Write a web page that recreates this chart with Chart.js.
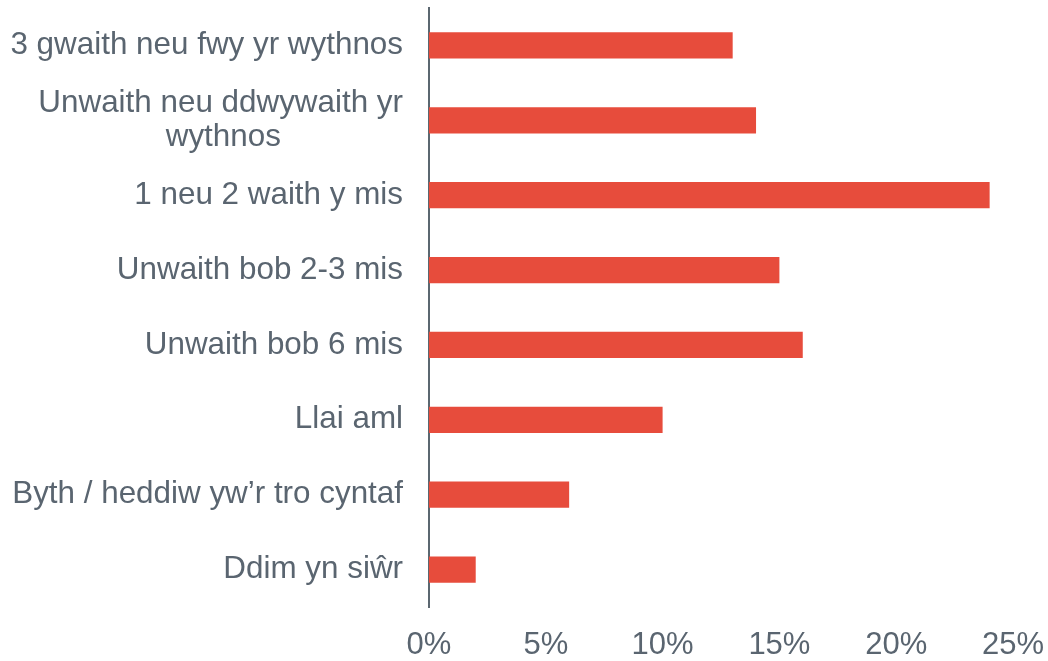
<!DOCTYPE html>
<html>
<head>
<meta charset="utf-8">
<script src="https://cdn.jsdelivr.net/npm/chart.js@4"></script>
<style>
  html, body { margin: 0; padding: 0; background: #ffffff; }
  #wrap { width: 1048px; height: 661px; position: relative; }
</style>
</head>
<body>
<div id="wrap"><canvas id="c"></canvas></div>
<script>
const categories = [
  "3 gwaith neu fwy yr wythnos",
  ["Unwaith neu ddwywaith yr", "wythnos" + " ".repeat(14)],
  "1 neu 2 waith y mis",
  "Unwaith bob 2-3 mis",
  "Unwaith bob 6 mis",
  "Llai aml",
  "Byth / heddiw yw\u2019r tro cyntaf",
  "Ddim yn si\u0175r"
];
const values = [13, 14, 24, 15, 16, 10, 6, 2];
const xTickMin = 0;
const xTickMax = 25;
const xTickStep = 5;

const textColor = "#5a6570";
const family = "'Liberation Sans', Arial, sans-serif";

new Chart(document.getElementById("c"), {
  type: "bar",
  data: {
    labels: categories,
    datasets: [{
      data: values,
      backgroundColor: "#e74c3c",
      borderWidth: 0,
      categoryPercentage: 1,
      barPercentage: 0.35
    }]
  },
  options: {
    indexAxis: "y",
    responsive: true,
    maintainAspectRatio: false,
    animation: false,
    layout: { padding: { top: 8, right: 0, bottom: 0, left: 0 } },
    plugins: { legend: { display: false }, tooltip: { enabled: false } },
    scales: {
      x: {
        min: xTickMin,
        max: xTickMax,
        grid: { display: false, drawTicks: false },
        border: { display: false },
        ticks: {
          stepSize: xTickStep,
          color: textColor,
          font: { family, size: 31, lineHeight: 1.07 },
          padding: 22,
          maxRotation: 0,
          autoSkip: false,
          callback: v => v + "%"
        },
        afterFit: s => { s.height = 54; s.paddingLeft = 0; s.paddingRight = 35; }
      },
      y: {
        grid: { display: false, drawTicks: false },
        border: { display: true, color: "#5b6770", width: 2 },
        ticks: { color: textColor, font: { family, size: 31.4, lineHeight: 1.07 }, padding: 26, autoSkip: false },
        afterFit: s => { s.width = 429; s.paddingTop = 0; s.paddingBottom = 0; }
      }
    }
  }
});
</script>
</body>
</html>
